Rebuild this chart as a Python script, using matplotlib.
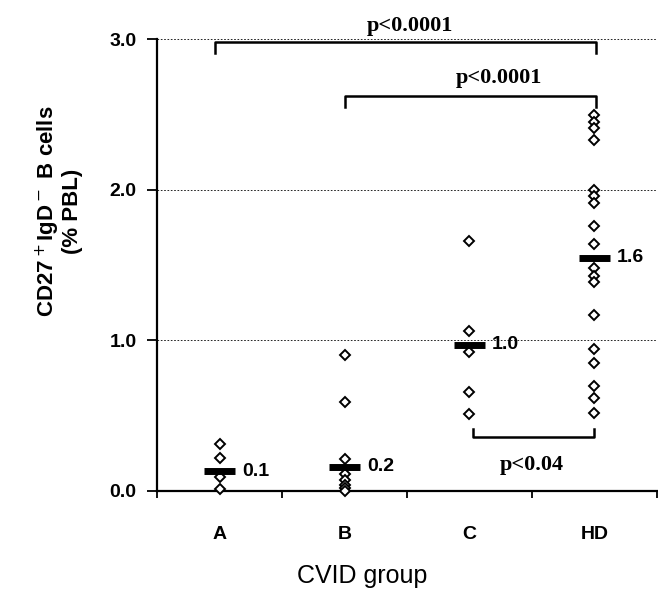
import numpy as np
import matplotlib.pyplot as plt

groups = ['A', 'B', 'C', 'HD']
vals_a = [0.31, 0.22, 0.09, 0.01]
vals_b = [0.90, 0.59, 0.21, 0.11, 0.07, 0.04, 0.02, 0.0]
vals_c = [1.66, 1.06, 0.92, 0.66, 0.51]
vals_hd = [2.50, 2.45, 2.41, 2.33, 2.00, 1.96, 1.91, 1.76, 1.64,
           1.48, 1.43, 1.39, 1.17, 0.94, 0.85, 0.70, 0.62, 0.52]
medians = [0.13, 0.16, 0.97, 1.55]
median_labels = ['0.1', '0.2', '1.0', '1.6']

fig = plt.figure(figsize=(6.58, 5.95), dpi=100)
ax = fig.add_axes([0.239, 0.175, 0.759, 0.759])

sans = 'Liberation Sans'
xpos = np.arange(len(groups)) + 0.5
for i, v in enumerate([vals_a, vals_b, vals_c, vals_hd]):
    ax.plot([xpos[i]] * len(v), v, 'D', ms=5.5, mfc='white', mec='black',
            mew=1.4, clip_on=False, zorder=3)
    # median bar
    ax.plot([xpos[i] - 0.125, xpos[i] + 0.125], [medians[i], medians[i]],
            '-k', lw=5, solid_capstyle='butt', zorder=4)
    ax.text(xpos[i] + 0.18, medians[i], median_labels[i], va='center',
            ha='left', fontsize=14, fontweight='bold', family=sans)

# dotted grid lines
for g in [1, 2, 3]:
    ax.axhline(g, color='black', ls=(0, (2, 2)), lw=0.6, zorder=1)

# significance brackets
pfont = dict(family='Liberation Serif', fontweight='bold', fontsize=16)
ax.plot([0.46, 0.46, 3.51, 3.51], [2.91, 2.98, 2.98, 2.91], '-k', lw=1.8,
        clip_on=False, zorder=5)
ax.text(2.02, 3.09, 'p<0.0001', ha='center', va='center', **pfont)
ax.plot([1.5, 1.5, 3.51, 3.51], [2.55, 2.62, 2.62, 2.55], '-k', lw=1.8,
        clip_on=False, zorder=5)
ax.text(2.74, 2.74, 'p<0.0001', ha='center', va='center', **pfont)
ax.plot([2.53, 2.53, 3.5, 3.5], [0.41, 0.36, 0.36, 0.41], '-k', lw=1.8,
        clip_on=False, zorder=5)
ax.text(3.0, 0.17, 'p<0.04', ha='center', va='center', **pfont)

ax.set_xlim(0, 4)
ax.set_ylim(0, 3)
ax.set_xticks([0, 1, 2, 3, 4])
ax.set_xticklabels([])
ax.set_xticks(xpos, minor=True)
ax.set_xticklabels(groups, minor=True, fontsize=14, fontweight='bold',
                   family=sans)
ax.tick_params(axis='x', which='minor', length=0, pad=25)
ax.tick_params(axis='x', which='major', length=5, width=1.3, direction='out')
ax.set_yticks([0, 1, 2, 3])
ax.set_yticklabels(['0.0', '1.0', '2.0', '3.0'], fontsize=14,
                   fontweight='bold', family=sans)
ax.tick_params(axis='y', length=7, width=1.3, pad=8)

for s in ['top', 'right']:
    ax.spines[s].set_visible(False)
ax.spines['left'].set_linewidth(1.6)
ax.spines['bottom'].set_linewidth(1.6)

ax.set_ylabel('CD27$^+$IgD$^-$ B cells\n(% PBL)', fontsize=16,
              fontweight='bold', family=sans, linespacing=1.05)
ax.yaxis.set_label_coords(-0.148, 0.62)
ax.set_xlabel('CVID group', fontsize=18, family=sans)
ax.xaxis.set_label_coords(0.41, -0.163)

fig.savefig('out.png', dpi=100)
